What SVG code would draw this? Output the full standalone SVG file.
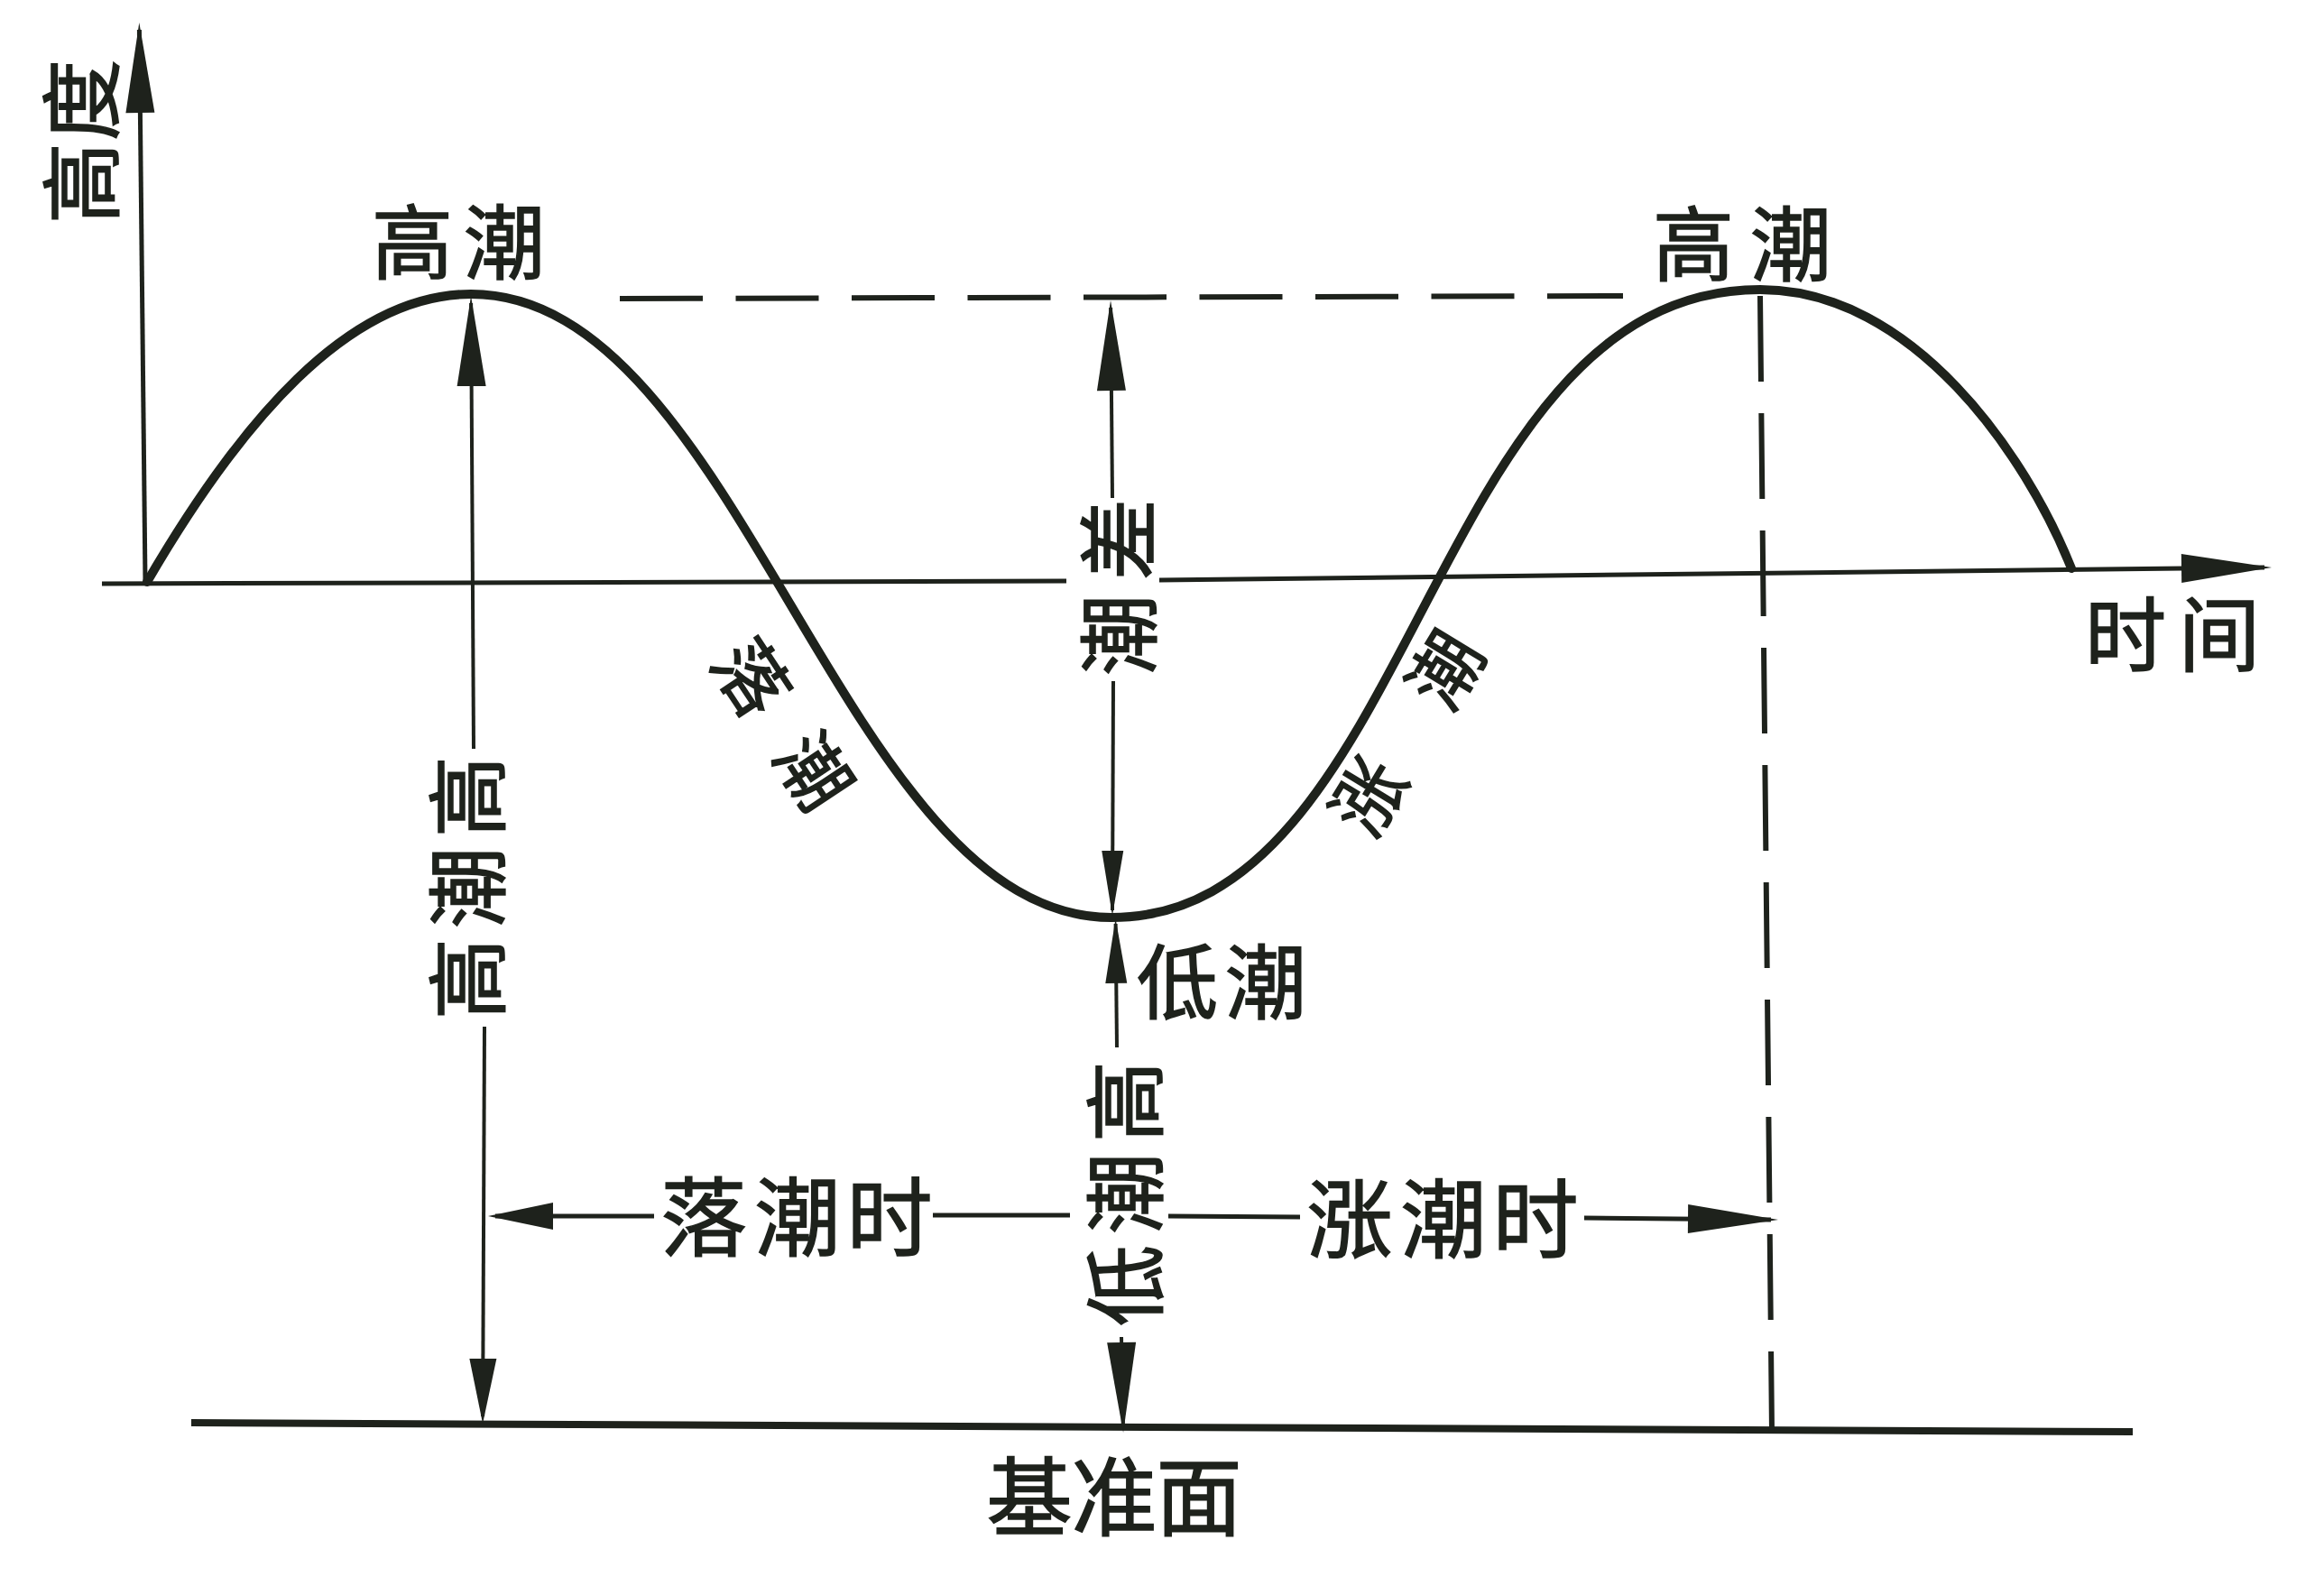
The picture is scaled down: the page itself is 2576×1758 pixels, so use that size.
<svg xmlns="http://www.w3.org/2000/svg" width="2576" height="1758" viewBox="0 0 2576 1758">
<defs>
<style>
.ln{stroke:#1e221c;fill:none;stroke-linecap:butt}
.ax{stroke-width:5}
.ar{stroke-width:4}
.tl{stroke-width:5}
.ds{stroke-width:6}
.cv{stroke-width:10;stroke-linejoin:round;stroke-linecap:round}
.t{font-family:"Noto Sans CJK SC","Noto Sans CJK JP",sans-serif;fill:#1e221c;stroke:#1e221c;stroke-width:1.6;text-anchor:middle;dominant-baseline:central;font-size:90px;font-weight:400}
.big{font-size:95px}
.sl{font-size:80px}
</style>
<marker id="aL" markerUnits="userSpaceOnUse" viewBox="-100 -18 108 36" markerWidth="108" markerHeight="36" refX="0" refY="0" orient="auto"><path d="M8,0 L-92,-16 L-92,16 Z" fill="#1e221c"/></marker>
<marker id="aM" markerUnits="userSpaceOnUse" viewBox="-70 -18 80 36" markerWidth="80" markerHeight="36" refX="0" refY="0" orient="auto"><path d="M8,0 L-64,-15 L-64,15 Z" fill="#1e221c"/></marker>
<marker id="aN" markerUnits="userSpaceOnUse" viewBox="-70 -14 78 28" markerWidth="78" markerHeight="28" refX="0" refY="0" orient="auto"><path d="M6,0 L-66,-12 L-66,12 Z" fill="#1e221c"/></marker>
</defs>
<rect x="0" y="0" width="2576" height="1758" fill="#ffffff"/>

<g id="axes">
<path class="ln ax" d="M161,645 L154.4,33" marker-end="url(#aL)"/>
<path class="ln ax" d="M113,647 L1182,644"/>
<path class="ln ax" d="M1285,643 L2510,629" marker-end="url(#aL)"/>
</g>

<g id="datum-line">
<path class="ln" style="stroke-width:8" d="M212,1577 L2364,1587"/>
</g>

<g id="tide-curve">
<path class="ln cv" d="M163,645 C265,470 385,326 522,326 C822,326 932,1017 1232,1017 C1572,1017 1581,321 1951,321 C2121,321 2246,505 2296,630"/>
</g>

<g id="connectors">
<path class="ln ds" d="M687,331 L1799,328" stroke-dasharray="92 36.5"/>
<path class="ln ds" d="M1951,328 L1964,1587" stroke-dasharray="95 35"/>
<path class="ln ar" d="M525,830 L522.1,336" marker-end="url(#aL)"/>
<path class="ln ar" d="M537,1138 L535.1,1570" marker-end="url(#aM)"/>
<path class="ln ar" d="M1233,552 L1231.1,341" marker-end="url(#aL)"/>
<path class="ln ar" d="M1234,755 L1233,1009" marker-end="url(#aN)"/>
<path class="ln ar" d="M1238,1161 L1236.6,1024" marker-end="url(#aN)"/>
<path class="ln ar" d="M1243,1482 L1244.9,1580" marker-end="url(#aL)"/>
<path class="ln tl" d="M725,1348 L549,1348" marker-end="url(#aM)"/>
<path class="ln tl" d="M1034,1347 L1186,1347"/>
<path class="ln tl" d="M1295,1348 L1441,1349"/>
<path class="ln tl" d="M1756,1350 L1963,1352" marker-end="url(#aL)"/>
</g>

<g id="label-height"><text class="t" transform="translate(85,157) rotate(-90)"><tspan x="-46">高</tspan><tspan x="46">度</tspan></text></g>
<g id="label-time"><text class="t" y="698"><tspan x="2356">时</tspan><tspan x="2460">间</tspan></text></g>
<g id="label-high-tide-1"><text class="t" y="263"><tspan x="457">高</tspan><tspan x="559">潮</tspan></text></g>
<g id="label-high-tide-2"><text class="t" y="265"><tspan x="1877">高</tspan><tspan x="1985">潮</tspan></text></g>
<g id="label-tidal-range"><text class="t" transform="translate(1235,651) rotate(-90)"><tspan x="-53">潮</tspan><tspan x="53">差</tspan></text></g>
<g id="label-ebb"><text class="t sl" transform="translate(872,800) rotate(56.4)"><tspan x="-62.4">落</tspan><tspan x="62.4">潮</tspan></text></g>
<g id="label-flood"><text class="t sl" transform="translate(1555,810) rotate(-58.7)"><tspan x="-82">涨</tspan><tspan x="82">潮</tspan></text></g>
<g id="label-high-water-height"><text class="t" transform="translate(513,984) rotate(-90)"><tspan x="-101">高</tspan><tspan x="0">潮</tspan><tspan x="101">高</tspan></text></g>
<g id="label-low-tide"><text class="t" y="1083"><tspan x="1305">低</tspan><tspan x="1403">潮</tspan></text></g>
<g id="label-low-water-height"><text class="t" transform="translate(1242,1323) rotate(-90)"><tspan x="-102">低</tspan><tspan x="0">潮</tspan><tspan x="102">高</tspan></text></g>
<g id="label-ebb-duration"><text class="t big" y="1343"><tspan x="780">落</tspan><tspan x="884">潮</tspan><tspan x="986">时</tspan></text></g>
<g id="label-flood-duration"><text class="t big" y="1345"><tspan x="1496">涨</tspan><tspan x="1600">潮</tspan><tspan x="1702">时</tspan></text></g>
<g id="label-datum"><text class="t big" y="1653"><tspan x="1141">基</tspan><tspan x="1235">准</tspan><tspan x="1329">面</tspan></text></g>
</svg>
